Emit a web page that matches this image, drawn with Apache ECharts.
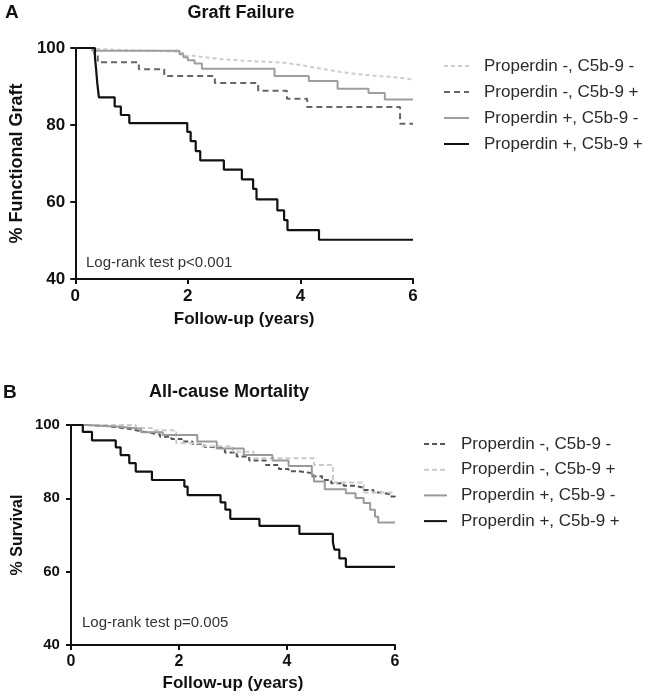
<!DOCTYPE html>
<html><head><meta charset="utf-8">
<script src="https://cdn.jsdelivr.net/npm/echarts@6/dist/echarts.min.js"></script>
<style>html,body{margin:0;padding:0;background:#fff}#c{width:661px;height:700px}</style>
</head><body><div id="c"></div><script>
// ---------- Panel A: Graft Failure ----------
var namesA = ['Properdin -, C5b-9 -', 'Properdin -, C5b-9 +', 'Properdin +, C5b-9 -', 'Properdin +, C5b-9 +'];
var a_nn_t = [0,0.2,0.5,0.9,1.6,1.8,1.95,2.1,2.3,2.6,3.0,3.4,3.7,3.9,4.1,4.3,4.5,4.7,4.9,5.1,5.3,5.6,5.8,5.95,6.0];
var a_nn_v = [100,99.7,99.4,99.2,99.0,98.6,98.0,97.6,97.1,96.7,96.4,96.2,95.8,95.3,94.8,94.3,93.8,93.4,93.1,92.8,92.5,92.2,91.9,91.6,91.6];
var a_np_t = [0,0.34,0.40,1.13,1.58,2.48,3.25,3.76,4.12,5.77,6.0];
var a_np_v = [100,98.2,96.3,94.5,92.7,90.9,88.9,86.8,84.7,80.3,80.3];
var a_pn_t = [0,0.3,1.85,1.92,2.0,2.12,2.25,3.54,4.15,4.66,5.21,5.50,6.0];
var a_pn_v = [100,99.3,98.4,97.6,96.8,96.0,94.6,92.7,91.4,89.4,88.3,86.6,86.6];
var a_pp_t = [0,0.35,0.37,0.39,0.42,0.70,0.81,0.96,1.99,2.05,2.14,2.22,2.64,2.96,3.16,3.22,3.59,3.71,3.77,4.33,6.0];
var a_pp_v = [100,97.5,94.5,91,87.2,84.8,82.6,80.5,78.2,75.8,73.2,70.8,68.4,65.9,63.4,60.7,57.8,55.3,52.7,50.2,50.2];

// ---------- Panel B: All-cause Mortality ----------
var b_nn_t = [0,0.3,0.65,0.9,1.1,1.26,1.45,1.65,1.86,2.05,2.25,2.47,2.64,2.85,3.07,3.3,3.61,3.85,4.03,4.22,4.45,4.65,4.82,5.05,5.25,5.42,5.6,5.75,5.9,6.0];
var b_nn_v = [100,99.7,99.3,98.9,98.4,97.9,97.4,96.8,96.2,95.5,94.8,94.0,93.6,92.5,91.4,90.3,89.1,88.0,87.4,86.9,86.0,85.0,84.1,83.4,82.9,82.3,81.6,81.1,80.5,80.3];
var b_np_t = [0,1.2,1.5,1.9,1.95,2.4,3.0,3.38,4.5,4.85,5.42,6.0];
var b_np_v = [100,99.2,98.6,98.0,95.0,94.2,92.7,90.9,89.1,84.3,81.6,81.6];
var b_pn_t = [0,0.3,0.9,1.3,1.7,2.34,2.7,3.2,3.73,4.03,4.46,4.5,4.70,5.09,5.27,5.42,5.54,5.63,5.69,6.0];
var b_pn_v = [100,99.5,99.0,98.0,97.3,95.5,93.6,91.8,90.3,88.8,86.4,84.6,82.5,81.4,80.1,78.7,76.9,75.0,73.4,73.4];
var b_pp_t = [0,0.22,0.39,0.83,0.92,1.08,1.20,1.50,2.10,2.16,2.77,2.86,2.95,3.49,4.23,4.85,4.88,4.97,5.09,6.0];
var b_pp_v = [100,98.1,95.8,93.9,91.8,89.6,87.3,85.0,83.2,80.9,78.9,76.9,74.4,72.5,70.3,68.0,66.0,63.6,61.3,61.3];

var yTicks = [40, 60, 80, 100];
var xTicks = [0, 2, 4, 6];

function pts(t, v) { return t.map(function (x, i) { return [x, v[i]]; }); }
var FONT = 'Liberation Sans, Arial, sans-serif';

function mkSeries(name, t, v, color, dash, width, gi) {
  return {
    name: name, type: 'line', step: 'end', symbol: 'none', silent: true,
    xAxisIndex: gi, yAxisIndex: gi, data: pts(t, v),
    lineStyle: { color: color, width: width, type: dash }, itemStyle: { color: color },
    z: 3
  };
}
function xAx(gi, fs, margin, nameGap) {
  return {
    type: 'value', gridIndex: gi, min: 0, max: 6, interval: 2,
    name: 'Follow-up (years)', nameLocation: 'middle', nameGap: nameGap,
    nameTextStyle: { fontFamily: FONT, fontWeight: 'bold', fontSize: 17, color: '#111' },
    axisLine: { lineStyle: { color: '#111', width: 2 } },
    axisTick: { show: true, length: 5, lineStyle: { color: '#111', width: 2 } },
    axisLabel: { fontFamily: FONT, fontWeight: 'bold', fontSize: fs, color: '#111', margin: margin },
    splitLine: { show: false }
  };
}
function yAx(gi, name, fs, margin, nameGap, nfs) {
  return {
    type: 'value', gridIndex: gi, min: 40, max: 100, interval: 20,
    name: name, nameLocation: 'middle', nameGap: nameGap, nameRotate: 90,
    nameTextStyle: { fontFamily: FONT, fontWeight: 'bold', fontSize: nfs, color: '#111' },
    axisLine: { show: true, lineStyle: { color: '#111', width: 2 } },
    axisTick: { show: true, length: 5, lineStyle: { color: '#111', width: 2 } },
    axisLabel: { fontFamily: FONT, fontWeight: 'bold', fontSize: fs, color: '#111', margin: margin },
    splitLine: { show: false }
  };
}
var namesB = namesA.map(function (n) { return n + '#B'; });

var option = {
  backgroundColor: '#fff',
  animation: false,
  grid: [
    { left: 68, top: 48, width: 345, height: 231 },
    { left: 64, top: 425, width: 331, height: 220 }
  ],
  xAxis: [xAx(0, 17, 9, 32), xAx(1, 16, 9, 30)],
  yAxis: [yAx(0, '% Functional Graft', 17, 10, 42, 18), yAx(1, '% Survival', 15, 11, 45, 16)],
  legend: [
    {
      data: namesA, orient: 'vertical', left: 438, top: 52, itemWidth: 25, itemHeight: 14, itemGap: 8,
      selectedMode: false, itemStyle: { opacity: 0 },
      textStyle: { fontFamily: FONT, fontSize: 17, color: '#2b2b2b', padding: [0, 0, 0, 10], lineHeight: 18 }
    },
    {
      data: namesB, orient: 'vertical', left: 418, top: 430, itemWidth: 23, itemHeight: 14, itemGap: 7.7,
      selectedMode: false, itemStyle: { opacity: 0 },
      formatter: function (n) { return n.replace('#B', ''); },
      textStyle: { fontFamily: FONT, fontSize: 17, color: '#2b2b2b', padding: [0, 0, 0, 9], lineHeight: 18 }
    }
  ],
  graphic: [
    { type: 'text', left: 5, top: 3, style: { text: 'A', font: 'bold 19px ' + FONT, fill: '#111' } },
    { type: 'text', x: 241, y: 13, style: { text: 'Graft Failure', font: 'bold 18px ' + FONT, fill: '#111', textAlign: 'center', textVerticalAlign: 'middle' } },
    { type: 'text', x: 86, y: 263, style: { text: 'Log-rank test p<0.001', font: '15px ' + FONT, fill: '#333', textVerticalAlign: 'middle' } },
    { type: 'text', left: 3, top: 383, style: { text: 'B', font: 'bold 19px ' + FONT, fill: '#111' } },
    { type: 'text', x: 229, y: 392, style: { text: 'All-cause Mortality', font: 'bold 18px ' + FONT, fill: '#111', textAlign: 'center', textVerticalAlign: 'middle' } },
    { type: 'text', x: 82, y: 623, style: { text: 'Log-rank test p=0.005', font: '15px ' + FONT, fill: '#333', textVerticalAlign: 'middle' } }
  ],
  series: [
    mkSeries(namesA[0], a_nn_t, a_nn_v, '#cdcdcd', [4, 3], 2, 0),
    mkSeries(namesA[1], a_np_t, a_np_v, '#666666', [6, 4], 2, 0),
    mkSeries(namesA[2], a_pn_t, a_pn_v, '#9e9e9e', 'solid', 2, 0),
    mkSeries(namesA[3], a_pp_t, a_pp_v, '#111111', 'solid', 2.2, 0),
    mkSeries(namesB[0], b_nn_t, b_nn_v, '#555555', [5, 3], 2, 1),
    mkSeries(namesB[1], b_np_t, b_np_v, '#cbcbcb', [5, 3], 2, 1),
    mkSeries(namesB[2], b_pn_t, b_pn_v, '#9a9a9a', 'solid', 2, 1),
    mkSeries(namesB[3], b_pp_t, b_pp_v, '#111111', 'solid', 2.2, 1)
  ]
};
var chart = echarts.init(document.getElementById('c'), null, { renderer: 'canvas' });
chart.setOption(option);
</script></body></html>
